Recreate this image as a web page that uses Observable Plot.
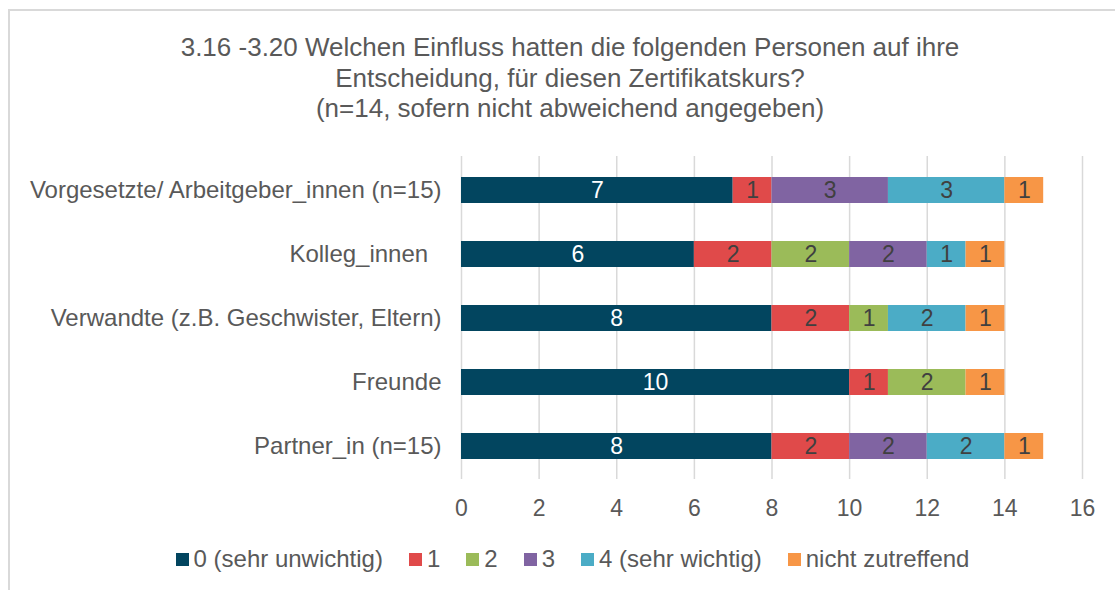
<!DOCTYPE html>
<html>
<head>
<meta charset="utf-8">
<script src="https://cdn.jsdelivr.net/npm/d3@7"></script>
<script src="https://cdn.jsdelivr.net/npm/@observablehq/plot@0.6"></script>
<style>
  html, body { margin: 0; padding: 0; background: #fff; }
  #wrap { position: relative; width: 1115px; height: 590px; overflow: hidden; font-family: "Liberation Sans", Arial, sans-serif; color: #595959; }
  #frame { position: absolute; left: 8px; top: 9px; width: 1200px; height: 700px; border: 2px solid #d9d9d9; box-sizing: border-box; pointer-events: none; }
  #title { padding-top: 32px; text-align: center; font-size: 26px; line-height: 30.5px; height: 92px; padding-left: 25px; }
  #chart { display: block; }
  #legend { display: flex; justify-content: center; align-items: center; margin-top: 23px; padding-left: 30px; font-size: 24px; line-height: 24px; }
  .item { display: flex; align-items: center; margin: 0 13px; }
  .sw { width: 13px; height: 13px; margin-right: 5px; }
</style>
</head>
<body>
<div id="wrap">
  <div id="frame"></div>
  <div id="title">3.16 -3.20 Welchen Einfluss hatten die folgenden Personen auf ihre<br>Entscheidung, für diesen Zertifikatskurs?<br>(n=14, sofern nicht abweichend angegeben)</div>
  <div id="chart"></div>
  <div id="legend"></div>
</div>
<script>
const categories = ["Vorgesetzte/ Arbeitgeber_innen (n=15)", "Kolleg_innen\u00a0\u00a0", "Verwandte (z.B. Geschwister, Eltern)", "Freunde", "Partner_in (n=15)"];
const seriesNames = ["0 (sehr unwichtig)", "1", "2", "3", "4 (sehr wichtig)", "nicht zutreffend"];
const colors = ["#02455f", "#e04a4a", "#9bbb59", "#8064a2", "#4bacc6", "#f79646"];
const s0 = [7, 6, 8, 10, 8];
const s1 = [1, 2, 2, 1, 2];
const s2 = [0, 2, 1, 2, 0];
const s3 = [3, 2, 0, 0, 2];
const s4 = [3, 1, 2, 0, 2];
const s5 = [1, 1, 1, 1, 1];
const xTicks = [0, 2, 4, 6, 8, 10, 12, 14, 16];

const seriesValues = [s0, s1, s2, s3, s4, s5];
const data = [];
seriesNames.forEach((s, si) => {
  categories.forEach((c, ci) => {
    data.push({cat: c, series: s, si, value: seriesValues[si][ci]});
  });
});
const nonzero = data.filter(d => d.value > 0);

const plot = Plot.plot({
  width: 1115,
  height: 400,
  marginLeft: 461,
  marginRight: 33,
  marginTop: 32,
  marginBottom: 45,
  style: {fontFamily: '"Liberation Sans", Arial, sans-serif', fontSize: "23px", color: "#595959", background: "transparent"},
  x: {domain: [0, 16], ticks: xTicks, label: null},
  y: {domain: categories, paddingInner: 0.6, paddingOuter: 0.285, label: null},
  color: {domain: seriesNames, range: colors},
  marks: [
    Plot.ruleX(xTicks, {stroke: "#d9d9d9", strokeWidth: 1.5}),
    Plot.barX(nonzero, Plot.stackX({x: "value", y: "cat", fill: "series", order: seriesNames})),
    Plot.text(nonzero, Plot.stackX({x: "value", y: "cat", z: "series", order: seriesNames, text: d => String(d.value),
      fill: d => d.si === 0 ? "#ffffff" : "#404040", fontSize: 23})),
    Plot.axisX({ticks: xTicks, tickSize: 0, tickPadding: 20, label: null, fontSize: 23, fill: "#595959"}),
    Plot.axisY({tickSize: 0, tickPadding: 20, label: null, fontSize: 24, fill: "#595959"})
  ]
});
document.getElementById("chart").appendChild(plot);

const legend = document.getElementById("legend");
seriesNames.forEach((s, i) => {
  const it = document.createElement("div");
  it.className = "item";
  const sw = document.createElement("div");
  sw.className = "sw";
  sw.style.background = colors[i];
  const t = document.createElement("span");
  t.textContent = s;
  it.appendChild(sw);
  it.appendChild(t);
  legend.appendChild(it);
});
</script>
</body>
</html>
